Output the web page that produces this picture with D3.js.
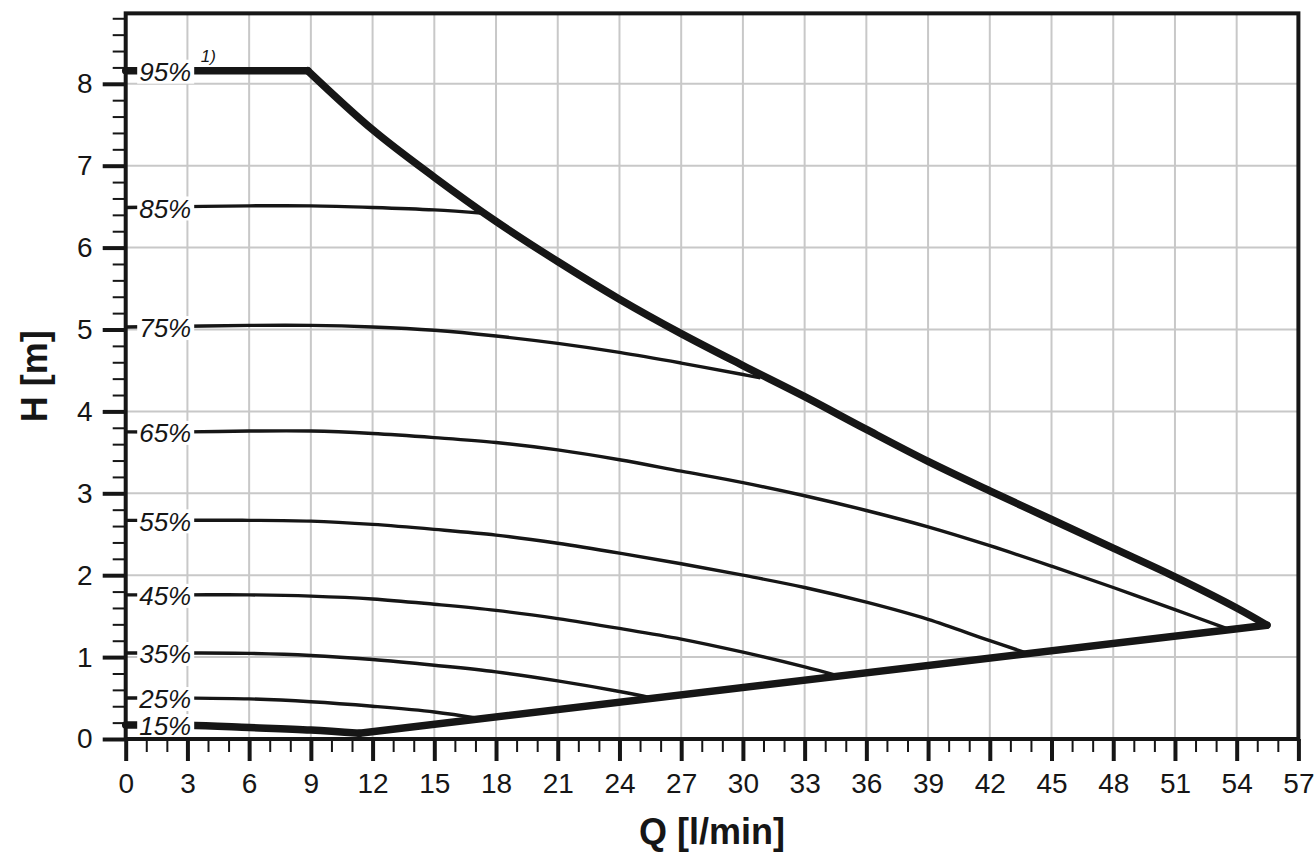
<!DOCTYPE html>
<html>
<head>
<meta charset="utf-8">
<script src="https://cdn.jsdelivr.net/npm/d3@7"></script>
<style>
  body { margin: 0; background: #fff; }
  svg { display: block; font-family: "Liberation Sans", Arial, sans-serif; }
</style>
</head>
<body>
<svg id="chart" width="1315" height="856"></svg>
<script>
// pump curves, Q [l/min] vs H [m]
var flowTicks = d3.range(0, 58, 3);
var headTicks = d3.range(0, 9, 1);
var percentLabels = ["95%", "85%", "75%", "65%", "55%", "45%", "35%", "25%", "15%"];

var curve95 = [[0, 8.16], [8.85, 8.16]];
var maxCurve = [[8.85, 8.16], [12, 7.44], [15, 6.86], [18, 6.32], [21, 5.83], [24, 5.37],
    [27, 4.95], [30, 4.56], [33, 4.18], [36, 3.78], [39, 3.39], [42, 3.03], [45, 2.68],
    [48, 2.33], [51, 1.98], [54, 1.6], [55.47, 1.39]];
var curve85 = [[0, 6.49], [3, 6.5], [6, 6.51], [9, 6.51], [12, 6.49], [15, 6.46], [17.4, 6.42]];
var curve75 = [[0, 5.03], [3, 5.04], [6, 5.05], [9, 5.05], [12, 5.03], [15, 4.99], [18, 4.92],
    [21, 4.83], [24, 4.72], [27, 4.59], [30, 4.45], [30.85, 4.41]];
var curve65 = [[0, 3.75], [3, 3.75], [6, 3.76], [9, 3.76], [12, 3.73], [15, 3.68], [18, 3.62],
    [21, 3.53], [24, 3.41], [27, 3.27], [30, 3.13], [33, 2.97], [36, 2.79], [39, 2.59],
    [42, 2.36], [45, 2.11], [48, 1.85], [51, 1.58], [53.5, 1.35]];
var curve55 = [[0, 2.67], [3, 2.67], [6, 2.67], [9, 2.66], [12, 2.62], [15, 2.56], [18, 2.49],
    [21, 2.39], [24, 2.27], [27, 2.14], [30, 2.0], [33, 1.85], [36, 1.67], [39, 1.46],
    [42, 1.2], [43.8, 1.05]];
var curve45 = [[0, 1.76], [3, 1.76], [6, 1.76], [9, 1.745], [12, 1.71], [15, 1.645], [18, 1.57],
    [21, 1.47], [24, 1.35], [27, 1.22], [30, 1.06], [33, 0.88], [34.5, 0.78]];
var curve35 = [[0, 1.05], [3, 1.05], [6, 1.045], [9, 1.02], [12, 0.97], [15, 0.9], [18, 0.82],
    [21, 0.71], [24, 0.58], [25.6, 0.5]];
var curve25 = [[0, 0.5], [3, 0.5], [6, 0.49], [9, 0.455], [12, 0.4], [15, 0.33], [17.2, 0.25]];
var curve15 = [[0, 0.17], [3, 0.167], [6, 0.14], [9, 0.11], [11.36, 0.07]];
var minLine = [[11.36, 0.07], [55.47, 1.39]];

var svg = d3.select("#chart");

var x = d3.scaleLinear().domain([0, 57]).range([125.7, 1298.4]);
var y = d3.scaleLinear().domain([0, 8]).range([739, 83.8]);
var yTop = 8.86;

var ink = "#161616";

// grid
svg.append("g")
    .selectAll("line.v")
    .data(flowTicks.filter(function (d) { return d > 0 && d < 57; }))
    .enter().append("line")
    .attr("x1", function (d) { return x(d); })
    .attr("x2", function (d) { return x(d); })
    .attr("y1", y(yTop))
    .attr("y2", y(0))
    .attr("stroke", "#c8c8c8")
    .attr("stroke-width", 2);

svg.append("g")
    .selectAll("line.h")
    .data(headTicks.filter(function (d) { return d > 0; }))
    .enter().append("line")
    .attr("x1", x(0))
    .attr("x2", x(57))
    .attr("y1", function (d) { return y(d); })
    .attr("y2", function (d) { return y(d); })
    .attr("stroke", "#c8c8c8")
    .attr("stroke-width", 2);

// curves
var line = d3.line()
    .x(function (d) { return x(d[0]); })
    .y(function (d) { return y(d[1]); })
    .curve(d3.curveCatmullRom.alpha(0.5));

var thinCurves = [curve85, curve75, curve65, curve55, curve45, curve35, curve25];
var thickCurves = [curve95, maxCurve, curve15, minLine];

svg.append("g")
    .selectAll("path")
    .data(thinCurves)
    .enter().append("path")
    .attr("d", line)
    .attr("fill", "none")
    .attr("stroke", ink)
    .attr("stroke-width", 3.4);

svg.append("g")
    .selectAll("path")
    .data(thickCurves)
    .enter().append("path")
    .attr("d", line)
    .attr("fill", "none")
    .attr("stroke", ink)
    .attr("stroke-width", 7.5)
    .attr("stroke-linecap", "round")
    .attr("stroke-linejoin", "round");

// percent labels sit on a white box over the start of each curve
var labelCurves = [curve95, curve85, curve75, curve65, curve55, curve45, curve35, curve25, curve15];
var labels = svg.append("g")
    .selectAll("g")
    .data(labelCurves)
    .enter().append("g")
    .attr("transform", function (d) { return "translate(" + x(0) + "," + y(d[0][1]) + ")"; });

labels.append("rect")
    .attr("x", 11.5)
    .attr("y", -11)
    .attr("width", 57)
    .attr("height", 24)
    .attr("fill", "#fff");

labels.append("text")
    .attr("x", 13.5)
    .attr("dy", "0.4em")
    .attr("font-size", 26)
    .attr("font-style", "italic")
    .attr("fill", ink)
    .text(function (d, i) { return percentLabels[i]; });

svg.append("text")
    .attr("x", x(0) + 75)
    .attr("y", y(curve95[0][1]) - 8.5)
    .attr("font-size", 17)
    .attr("font-style", "italic")
    .attr("fill", ink)
    .text("1)");

// axes
var xAxis = svg.append("g")
    .attr("transform", "translate(0," + y(0) + ")")
    .call(d3.axisBottom(x).tickValues(flowTicks).tickSize(22).tickPadding(12));
var xMinor = svg.append("g")
    .attr("transform", "translate(0," + y(0) + ")")
    .call(d3.axisBottom(x).tickValues(d3.range(0, 58, 1)).tickSize(13).tickFormat(""));

var yAxis = svg.append("g")
    .attr("transform", "translate(" + x(0) + ",0)")
    .call(d3.axisLeft(y).tickValues(headTicks).tickSize(23).tickPadding(10));
var yMinor = svg.append("g")
    .attr("transform", "translate(" + x(0) + ",0)")
    .call(d3.axisLeft(y).tickValues(d3.range(0, 8.81, 0.2)).tickSize(13).tickFormat(""));

[xAxis, yAxis].forEach(function (g) {
    g.select(".domain").remove();
    g.selectAll(".tick line").attr("stroke", ink).attr("stroke-width", 4);
    g.selectAll(".tick text")
        .attr("font-size", 28)
        .attr("font-family", "Liberation Sans, Arial, sans-serif")
        .attr("fill", ink);
});
[xMinor, yMinor].forEach(function (g) {
    g.select(".domain").remove();
    g.selectAll(".tick line").attr("stroke", ink).attr("stroke-width", 2);
});

// frame
svg.append("rect")
    .attr("x", x(0))
    .attr("y", y(yTop))
    .attr("width", x(57) - x(0))
    .attr("height", y(0) - y(yTop))
    .attr("fill", "none")
    .attr("stroke", ink)
    .attr("stroke-width", 4);

// titles
svg.append("text")
    .attr("x", (x(0) + x(57)) / 2)
    .attr("y", 844)
    .attr("text-anchor", "middle")
    .attr("font-size", 36)
    .attr("font-weight", "bold")
    .attr("fill", ink)
    .text("Q [l/min]");

svg.append("text")
    .attr("transform", "translate(47," + (y(0) + y(yTop)) / 2 + ") rotate(-90)")
    .attr("text-anchor", "middle")
    .attr("font-size", 36)
    .attr("font-weight", "bold")
    .attr("fill", ink)
    .text("H [m]");
</script>
</body>
</html>
